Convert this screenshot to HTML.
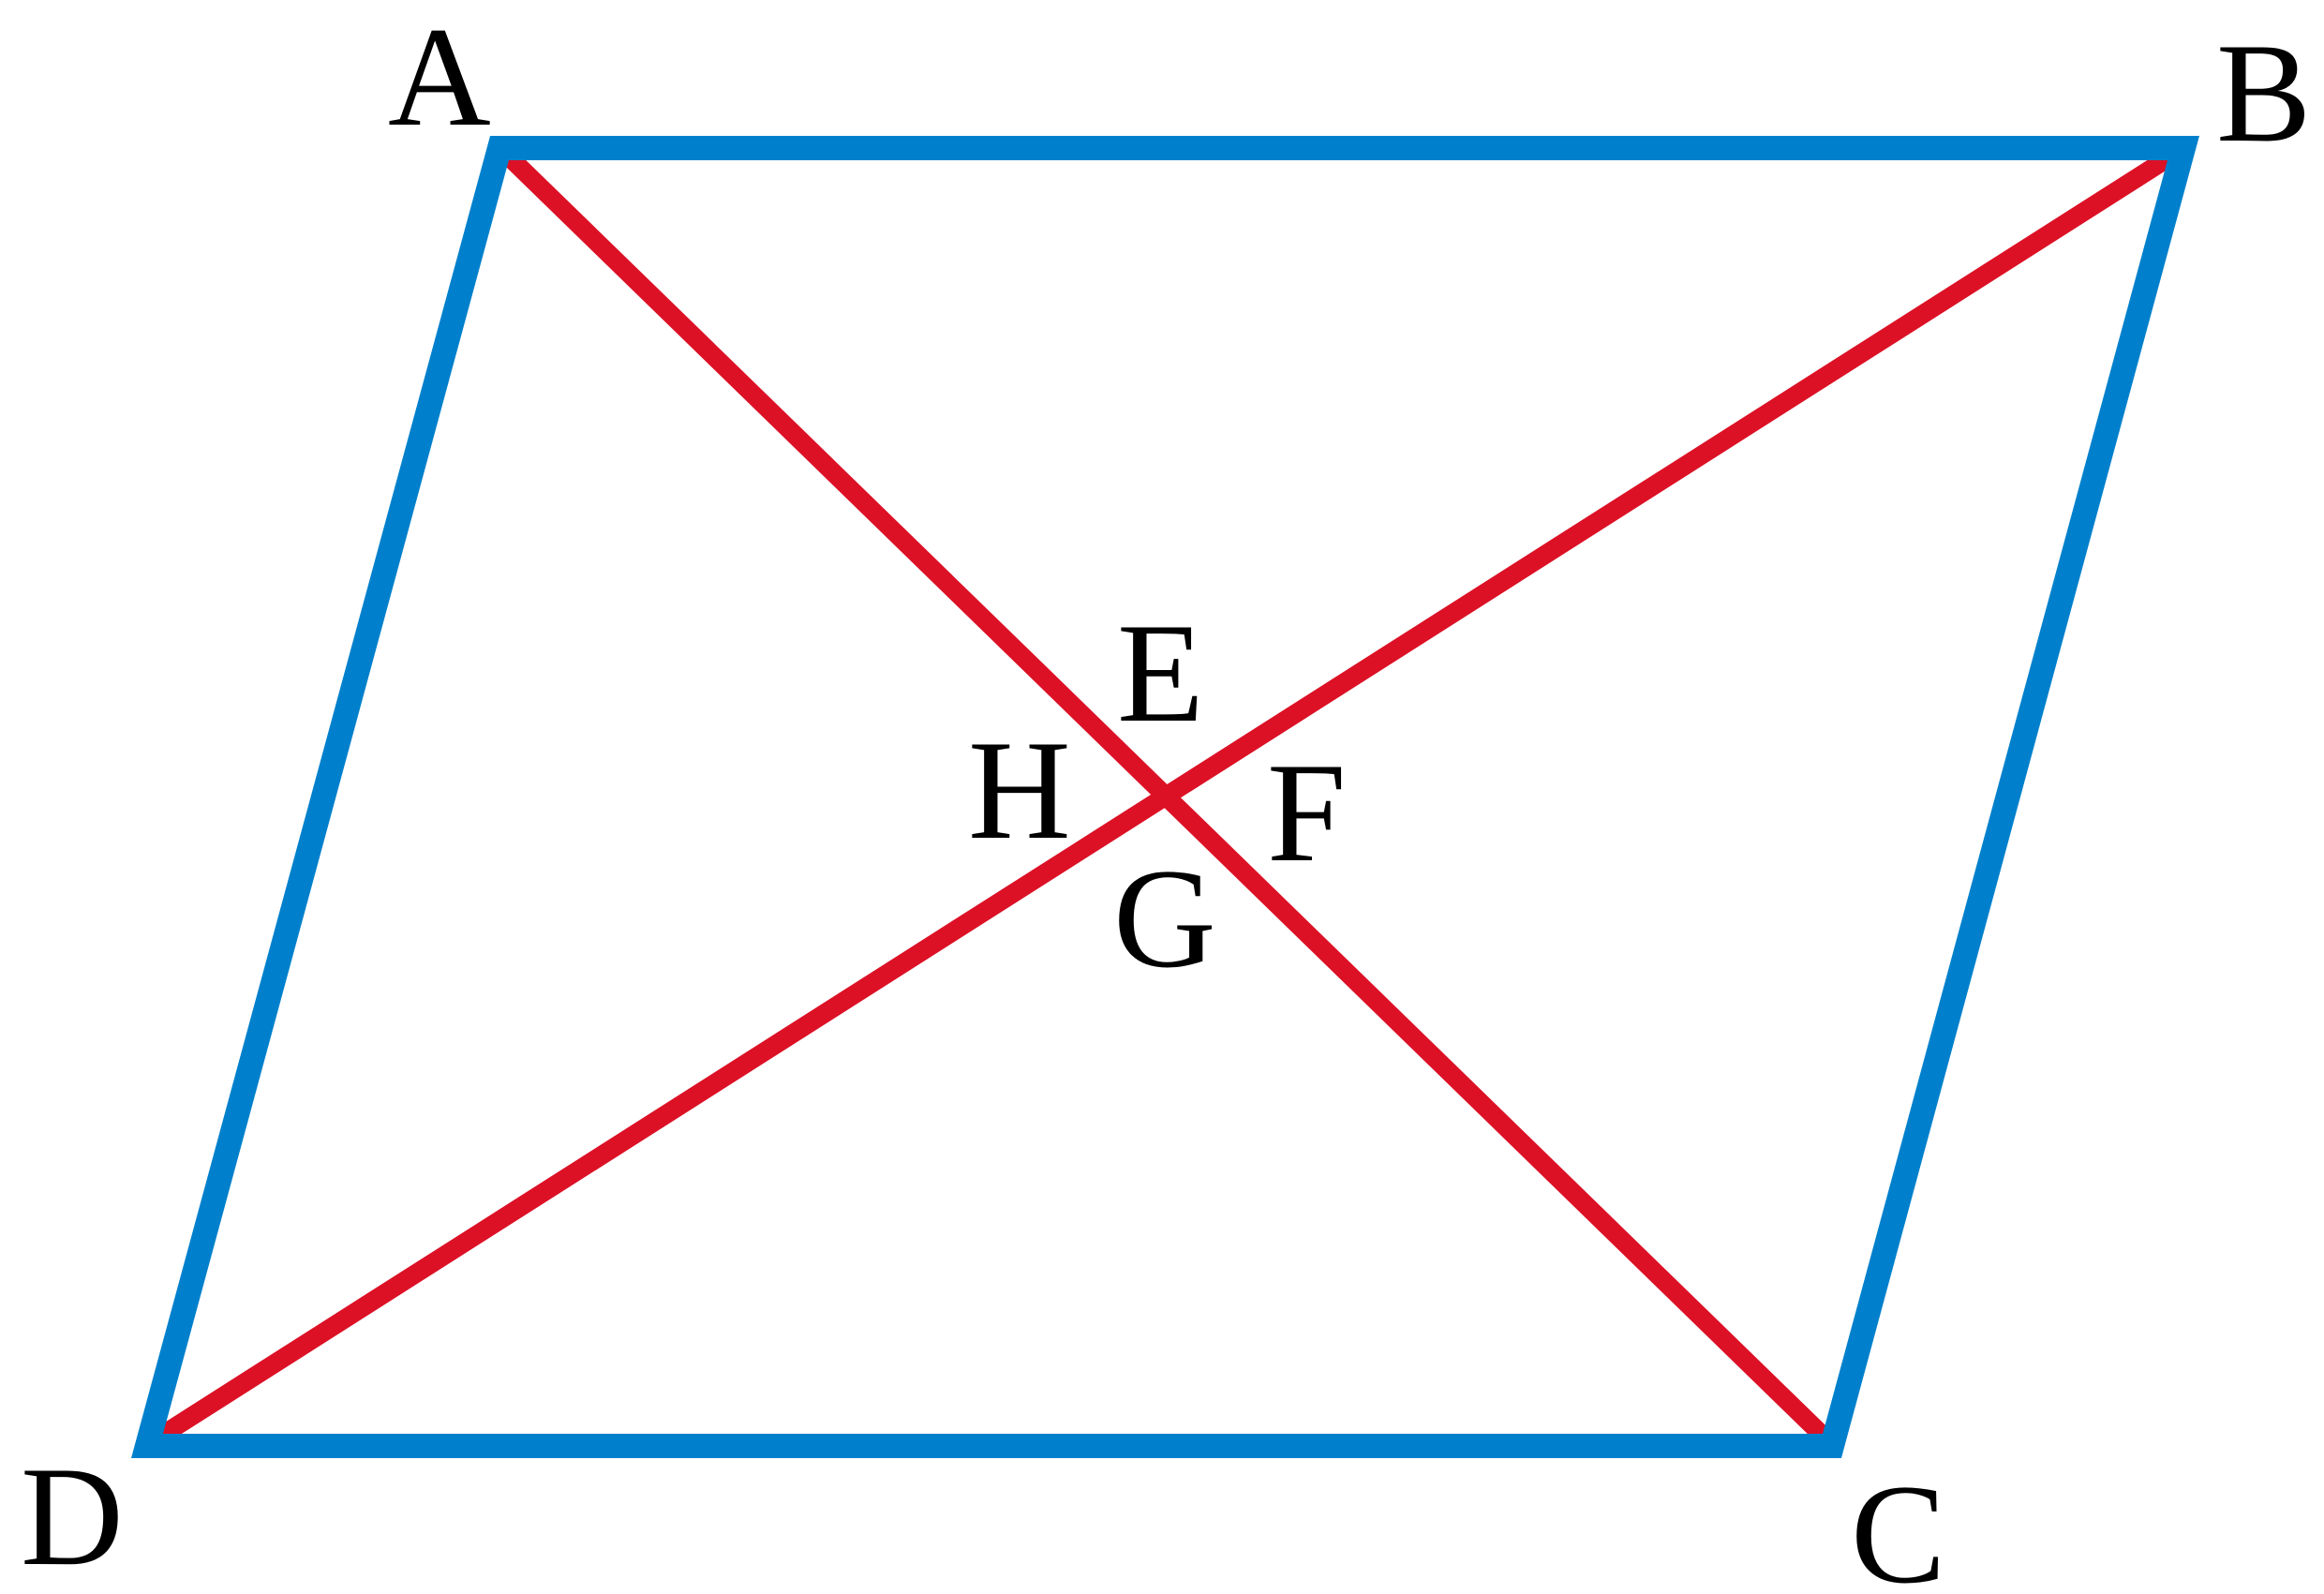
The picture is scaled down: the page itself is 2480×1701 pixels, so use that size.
<!DOCTYPE html>
<html><head><style>
html,body{margin:0;padding:0;background:#fff;}
svg{display:block;}
text{font-family:"Liberation Serif",serif;font-size:152px;fill:#000;}
</style></head><body>
<svg width="2480" height="1701" viewBox="0 0 2480 1701" xmlns="http://www.w3.org/2000/svg">
<line x1="547" y1="171" x2="1940" y2="1527" stroke="#dc1126" stroke-width="20" stroke-linecap="round"/>
<line x1="2310" y1="171" x2="180" y2="1527" stroke="#dc1126" stroke-width="20" stroke-linecap="round"/>
<polygon points="533,158 2330,158 1955,1543 157,1543" fill="none" stroke="#0080cc" stroke-width="26" stroke-linejoin="miter"/>
<text x="414" y="133">A</text>
<text x="2365" y="150">B</text>
<text x="1975" y="1688">C</text>
<text x="22" y="1669">D</text>
<text x="1192" y="769">E</text>
<text x="1352" y="918">F</text>
<text x="1188" y="1031">G</text>
<text x="1033" y="894">H</text>
</svg>
</body></html>
